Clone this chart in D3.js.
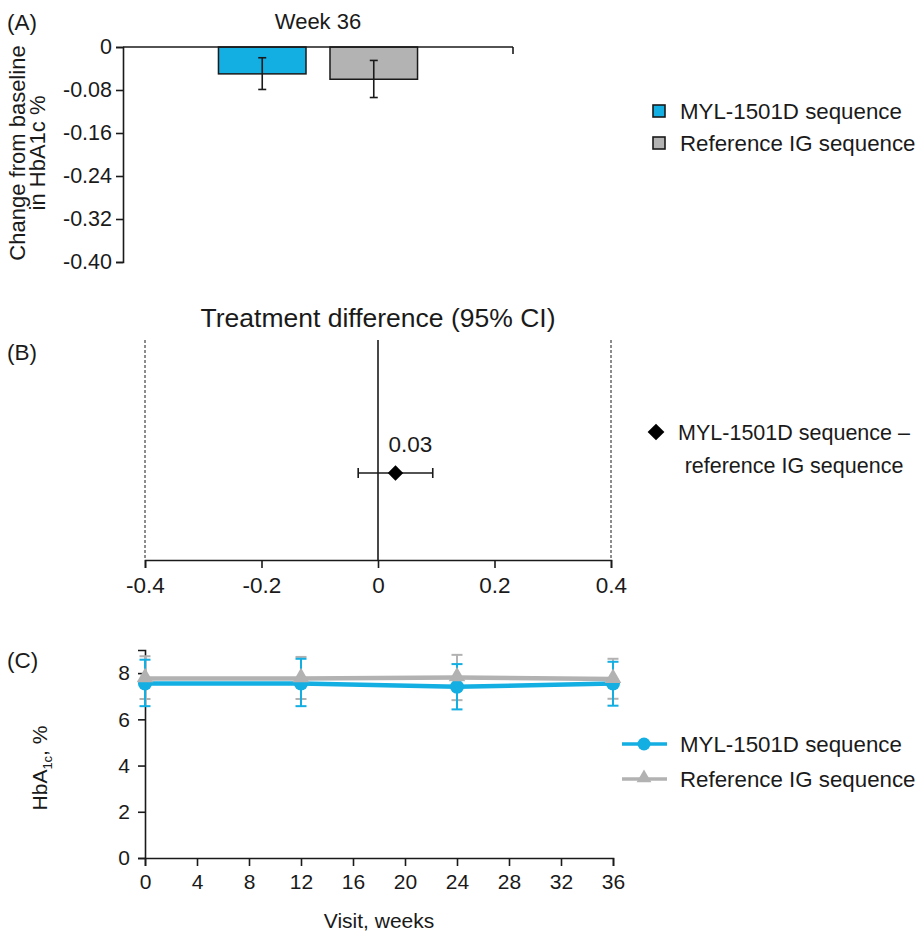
<!DOCTYPE html>
<html><head><meta charset="utf-8">
<script src="https://cdn.jsdelivr.net/npm/d3@7"></script>
<style>
html,body{margin:0;padding:0;background:#fff;}
svg text{font-family:"Liberation Sans",Arial,Helvetica,sans-serif;fill:#1a1a1a;}
</style></head>
<body>
<svg id="chart" width="919" height="936"></svg>
<script>
// ---------- DATA ----------
// Panel A: change from baseline in HbA1c at week 36
const seriesNames = ["MYL-1501D sequence", "Reference IG sequence"];
const changeMean = [-0.050, -0.060];
const changeLow = [-0.079, -0.094];
const changeHigh = [-0.020, -0.025];
const changeTicks = [0, -0.08, -0.16, -0.24, -0.32, -0.40];
const changeTickLabels = ["0", "-0.08", "-0.16", "-0.24", "-0.32", "-0.40"];

// Panel B: treatment difference (95% CI)
const diffLabel = "MYL-1501D sequence \u2013 reference IG sequence";
const diffEstimate = 0.03;
const diffLow = -0.034;
const diffHigh = 0.094;
const diffTicks = [-0.4, -0.2, 0, 0.2, 0.4];
const diffTickLabels = ["-0.4", "-0.2", "0", "0.2", "0.4"];

// Panel C: HbA1c over visits
const visitWeeks = [0, 12, 24, 36];
const mylMean = [7.55, 7.55, 7.41, 7.55];
const mylLow = [6.57, 6.57, 6.43, 6.59];
const mylHigh = [8.58, 8.62, 8.39, 8.49];
const refMean = [7.77, 7.77, 7.81, 7.74];
const refLow = [6.88, 6.88, 6.83, 6.89];
const refHigh = [8.73, 8.70, 8.79, 8.62];
const visitTicks = [0, 4, 8, 12, 16, 20, 24, 28, 32, 36];
const hbTicks = [0, 2, 4, 6, 8];

// ---------- STYLE ----------
const BLUE = "#13aee2", GRAY = "#b3b3b3", LINEGRAY = "#b2b2b2", INK = "#1a1a1a";
const svg = d3.select("#chart");

// ================= PANEL A =================
const yA = d3.scaleLinear().domain([-0.40, 0]).range([262, 47]);
const xA = d3.scaleBand().domain(seriesNames).range([123, 513]).paddingInner(0.215).paddingOuter(0.856);
const gA = svg.append("g");

gA.selectAll("rect.bar").data(seriesNames).join("rect")
  .attr("x", d => xA(d)).attr("width", xA.bandwidth())
  .attr("y", yA(0)).attr("height", (d, i) => yA(changeMean[i]) - yA(0))
  .attr("fill", (d, i) => i === 0 ? BLUE : GRAY)
  .attr("stroke", INK).attr("stroke-width", 1.5);

// error bars
seriesNames.forEach((d, i) => {
  const cx = xA(d) + xA.bandwidth() / 2;
  const g = gA.append("g").attr("stroke", INK).attr("stroke-width", 1.6);
  g.append("line").attr("x1", cx).attr("x2", cx).attr("y1", yA(changeHigh[i])).attr("y2", yA(changeLow[i]));
  g.append("line").attr("x1", cx - 4).attr("x2", cx + 4).attr("y1", yA(changeHigh[i])).attr("y2", yA(changeHigh[i]));
  g.append("line").attr("x1", cx - 4).attr("x2", cx + 4).attr("y1", yA(changeLow[i])).attr("y2", yA(changeLow[i]));
});

// y axis A
const axA = d3.axisLeft(yA).tickValues(changeTicks).tickSize(7).tickPadding(4)
  .tickFormat((d, i) => changeTickLabels[i]);
const gAy = gA.append("g").attr("transform", "translate(123,0)").call(axA);
gAy.select(".domain").attr("stroke", INK).attr("stroke-width", 1.6);
gAy.selectAll(".tick line").attr("stroke", INK).attr("stroke-width", 1.6);
gAy.selectAll(".tick text").attr("font-size", 21.5).attr("fill", INK).style("font-family", "Liberation Sans, Arial, sans-serif");
// x axis line at zero
gA.append("line").attr("x1", 123).attr("x2", 513).attr("y1", yA(0)).attr("y2", yA(0)).attr("stroke", INK).attr("stroke-width", 1.6);
gA.append("line").attr("x1", 513).attr("x2", 513).attr("y1", yA(0)).attr("y2", yA(0) + 7).attr("stroke", INK).attr("stroke-width", 1.6);

gA.append("text").attr("x", 318).attr("y", 29).attr("text-anchor", "middle").attr("font-size", 22).text("Week 36");
svg.append("text").attr("x", 7).attr("y", 30).attr("font-size", 22.5).text("(A)");
const yLabA = svg.append("text").attr("transform", "translate(0,153) rotate(-90)").attr("text-anchor", "middle").attr("font-size", 22);
yLabA.append("tspan").attr("x", 0).attr("y", 25).text("Change from baseline");
yLabA.append("tspan").attr("x", 0).attr("y", 45).text("in HbA1c %");

// legend A
seriesNames.forEach((d, i) => {
  const cy = 111 + i * 32;
  svg.append("rect").attr("x", 653).attr("y", cy - 6).attr("width", 12).attr("height", 12)
    .attr("fill", i === 0 ? BLUE : GRAY).attr("stroke", INK).attr("stroke-width", 1.6);
  svg.append("text").attr("x", 680).attr("y", cy + 8).attr("font-size", 22.3).text(d);
});

// ================= PANEL B =================
const xB = d3.scaleLinear().domain([-0.4, 0.4]).range([145, 611]);
const gB = svg.append("g");
const axB = d3.axisBottom(xB).tickValues(diffTicks).tickSize(8).tickPadding(9).tickFormat((d, i) => diffTickLabels[i]);
const gBx = gB.append("g").attr("transform", "translate(0,560)").call(axB);
gBx.select(".domain").attr("stroke", INK).attr("stroke-width", 1.6);
gBx.selectAll(".tick line").attr("stroke", INK).attr("stroke-width", 1.6);
gBx.selectAll(".tick text").attr("font-size", 22.5).attr("fill", INK).style("font-family", "Liberation Sans, Arial, sans-serif");

[-0.4, 0.4].forEach(v => {
  gB.append("line").attr("x1", xB(v)).attr("x2", xB(v)).attr("y1", 340).attr("y2", 560)
    .attr("stroke", INK).attr("stroke-width", 1).attr("stroke-dasharray", "3,2");
});
gB.append("line").attr("x1", xB(0)).attr("x2", xB(0)).attr("y1", 340).attr("y2", 560).attr("stroke", INK).attr("stroke-width", 1.6);

const pyB = 473;
gB.append("line").attr("x1", xB(diffLow)).attr("x2", xB(diffHigh)).attr("y1", pyB).attr("y2", pyB).attr("stroke", INK).attr("stroke-width", 1.6);
[diffLow, diffHigh].forEach(v => gB.append("line").attr("x1", xB(v)).attr("x2", xB(v)).attr("y1", pyB - 5).attr("y2", pyB + 5).attr("stroke", INK).attr("stroke-width", 1.6));
gB.append("path").attr("d", d3.symbol(d3.symbolSquare, 120)()).attr("transform", `translate(${xB(diffEstimate)},${pyB}) rotate(45)`).attr("fill", "#000");
gB.append("text").attr("x", xB(diffEstimate) + 15).attr("y", 452).attr("text-anchor", "middle").attr("font-size", 22.5).text(d3.format(".2f")(diffEstimate));

gB.append("text").attr("x", 378).attr("y", 327).attr("text-anchor", "middle").attr("font-size", 26.5).text("Treatment difference (95% CI)");
svg.append("text").attr("x", 7).attr("y", 360).attr("font-size", 22.5).text("(B)");

// legend B
svg.append("path").attr("d", d3.symbol(d3.symbolSquare, 140)()).attr("transform", "translate(656,432) rotate(45)").attr("fill", "#000");
const lgB = svg.append("text").attr("text-anchor", "middle").attr("font-size", 21.5);
const diffParts = diffLabel.split(" \u2013 ");
lgB.append("tspan").attr("x", 794).attr("y", 440).text(diffParts[0] + " \u2013");
lgB.append("tspan").attr("x", 794).attr("y", 473).text(diffParts[1]);

// ================= PANEL C =================
const xC = d3.scaleLinear().domain([0, 36]).range([145, 613]);
const yC = d3.scaleLinear().domain([0, 9]).range([858, 650]);
const gC = svg.append("g");

const axCx = d3.axisBottom(xC).tickValues(visitTicks).tickSize(8).tickPadding(8).tickFormat(d3.format("d"));
const gCx = gC.append("g").attr("transform", "translate(0,858)").call(axCx);
const axCy = d3.axisLeft(yC).tickValues(hbTicks).tickSize(7).tickPadding(8).tickFormat(d3.format("d"));
const gCy = gC.append("g").attr("transform", "translate(145,0)").call(axCy);
[gCx, gCy].forEach(g => {
  g.select(".domain").attr("stroke", INK).attr("stroke-width", 1.6);
  g.selectAll(".tick line").attr("stroke", INK).attr("stroke-width", 1.6);
  g.selectAll(".tick text").attr("font-size", 21).attr("fill", INK).style("font-family", "Liberation Sans, Arial, sans-serif");
});

function errBars(means, lows, highs, color) {
  const g = gC.append("g").attr("stroke", color).attr("stroke-width", 2);
  visitWeeks.forEach((w, i) => {
    const x = xC(w);
    g.append("line").attr("x1", x).attr("x2", x).attr("y1", yC(highs[i])).attr("y2", yC(lows[i]));
    g.append("line").attr("x1", x - 5.5).attr("x2", x + 5.5).attr("y1", yC(highs[i])).attr("y2", yC(highs[i]));
    g.append("line").attr("x1", x - 5.5).attr("x2", x + 5.5).attr("y1", yC(lows[i])).attr("y2", yC(lows[i]));
  });
}
errBars(refMean, refLow, refHigh, LINEGRAY);
errBars(mylMean, mylLow, mylHigh, BLUE);

const lineGen = d3.line().x(d => xC(d[0])).y(d => yC(d[1]));
gC.append("path").attr("d", lineGen(visitWeeks.map((w, i) => [w, mylMean[i]]))).attr("fill", "none").attr("stroke", BLUE).attr("stroke-width", 4.5);
gC.append("path").attr("d", lineGen(visitWeeks.map((w, i) => [w, refMean[i]]))).attr("fill", "none").attr("stroke", LINEGRAY).attr("stroke-width", 4.5);
gC.selectAll("circle.myl").data(visitWeeks).join("circle")
  .attr("cx", d => xC(d)).attr("cy", (d, i) => yC(mylMean[i])).attr("r", 7).attr("fill", BLUE);
gC.selectAll("path.ref").data(visitWeeks).join("path")
  .attr("d", d3.symbol(d3.symbolTriangle, 120)())
  .attr("transform", (d, i) => `translate(${xC(d)},${yC(refMean[i]) - 1})`).attr("fill", LINEGRAY);

gC.append("text").attr("x", 379).attr("y", 928).attr("text-anchor", "middle").attr("font-size", 21).text("Visit, weeks");
const yLabC = svg.append("text").attr("transform", "translate(47,768) rotate(-90)").attr("text-anchor", "middle").attr("font-size", 21);
yLabC.append("tspan").text("HbA");
yLabC.append("tspan").attr("font-size", 13).attr("dy", 5).text("1c");
yLabC.append("tspan").attr("dy", -5).text(", %");
svg.append("text").attr("x", 7).attr("y", 668).attr("font-size", 22.5).text("(C)");

// legend C
[[BLUE, "circle"], [LINEGRAY, "triangle"]].forEach(([c, m], i) => {
  const cy = 744 + i * 35;
  svg.append("line").attr("x1", 622).attr("x2", 667).attr("y1", cy).attr("y2", cy).attr("stroke", c).attr("stroke-width", 3.5);
  if (m === "circle") svg.append("circle").attr("cx", 644).attr("cy", cy).attr("r", 6.5).attr("fill", c);
  else svg.append("path").attr("d", d3.symbol(d3.symbolTriangle, 95)()).attr("transform", `translate(644,${cy - 1})`).attr("fill", c);
  svg.append("text").attr("x", 680).attr("y", cy + 8).attr("font-size", 22.3).text(seriesNames[i]);
});
</script>
</body></html>
